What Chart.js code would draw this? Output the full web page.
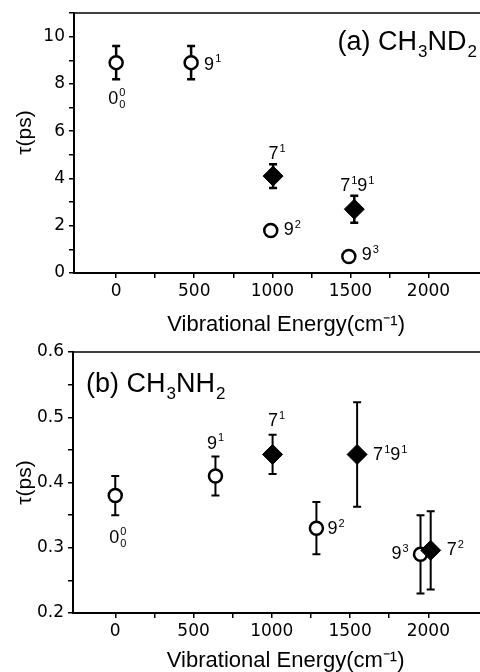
<!DOCTYPE html>
<html>
<head>
<meta charset="utf-8">
<script src="https://cdn.jsdelivr.net/npm/chart.js@4.4.0/dist/chart.umd.min.js"></script>
<style>
  html, body { margin: 0; padding: 0; background: #fff; }
  .panel { width: 480px; height: 336px; }
</style>
</head>
<body>
<div class="panel"><canvas id="chartA" width="480" height="336"></canvas></div>
<div class="panel"><canvas id="chartB" width="480" height="336"></canvas></div>
<script>
// ---- data: (a) CH3ND2 ----
const openEnergyA = [0, 480, 990, 1490];
const openTauA = [8.9, 8.9, 1.8, 0.7];
const openErrA = [0.7, 0.7, 0, 0];
const openLabelsA = ['0^0_0', '9^1', '9^2', '9^3'];
const filledEnergyA = [1005, 1525];
const filledTauA = [4.1, 2.7];
const filledErrA = [0.5, 0.57];
const filledLabelsA = ['7^1', '7^19^1'];

// ---- data: (b) CH3NH2 ----
const openEnergyB = [0, 640, 1285, 1950];
const openTauB = [0.38, 0.41, 0.33, 0.29];
const openErrB = [0.03, 0.03, 0.04, 0.06];
const openLabelsB = ['0^0_0', '9^1', '9^2', '9^3'];
const filledEnergyB = [1005, 1545, 2015];
const filledTauB = [0.443, 0.443, 0.296];
const filledErrB = [0.03, 0.08, 0.06];
const filledLabelsB = ['7^1', '7^19^1', '7^2'];

// ---- tick labels ----
const xTickLabels = [0, 500, 1000, 1500, 2000];
const yTickLabelsA = [0, 2, 4, 6, 8, 10];
const yTickLabelsB = [0.2, 0.3, 0.4, 0.5, 0.6];

const TEXT_FONT = '"Liberation Sans", Arial, sans-serif';
const TICK_FONT = '"DejaVu Sans", sans-serif';

Chart.defaults.color = '#000';

// label offsets relative to the marker (layout only)
const openOffsetsA = [[-8, 41, 'left'], [13, 7, 'left'], [13, 5, 'left'], [13, 4, 'left']];
const filledOffsetsA = [[4, -17, 'center'], [3, -18, 'center']];
const openOffsetsB = [[-6, 47, 'left'], [0, -27, 'center'], [11, 6, 'left'], [-12, 5, 'right']];
const filledOffsetsB = [[4, -28, 'center'], [16, 6, 'left'], [16, 5, 'left']];

// '^x' superscript, '_x' subscript, '^x_y' stacked
function parseRich(s) {
    const parts = [];
    for (let i = 0; i < s.length; i++) {
        const c = s[i];
        if (c === '^' && s[i + 2] === '_') { parts.push({ sup: s[i + 1], sub: s[i + 3] }); i += 3; }
        else if (c === '^') { parts.push({ sup: s[i + 1] }); i += 1; }
        else if (c === '_') { parts.push({ sub: s[i + 1] }); i += 1; }
        else parts.push({ t: c });
    }
    return parts;
}

function drawRich(ctx, str, x, y, size, align) {
    const parts = parseRich(str);
    const big = size + 'px ' + TEXT_FONT;
    const small = Math.round(size * 0.62) + 'px ' + TEXT_FONT;
    const widths = parts.map(p => {
        if (p.t !== undefined) { ctx.font = big; return ctx.measureText(p.t).width; }
        ctx.font = small;
        return Math.max(p.sup ? ctx.measureText(p.sup).width : 0, p.sub ? ctx.measureText(p.sub).width : 0) + 1;
    });
    const total = widths.reduce((a, b) => a + b, 0);
    let cx = align === 'center' ? x - total / 2 : align === 'right' ? x - total : x;
    ctx.save();
    ctx.fillStyle = '#000';
    ctx.textBaseline = 'alphabetic';
    ctx.textAlign = 'left';
    parts.forEach((p, i) => {
        if (p.t !== undefined) {
            ctx.font = big;
            ctx.fillText(p.t, cx, y);
        } else {
            ctx.font = small;
            if (p.sup) ctx.fillText(p.sup, cx + 1, y - size * 0.42);
            if (p.sub) ctx.fillText(p.sub, cx + 1, y + size * 0.25);
        }
        cx += widths[i];
    });
    ctx.restore();
}

const errorBars = {
    id: 'errorBars',
    beforeDatasetsDraw(chart) {
        const ctx = chart.ctx;
        const yScale = chart.scales.y;
        chart.data.datasets.forEach((ds, i) => {
            const meta = chart.getDatasetMeta(i);
            ctx.save();
            ctx.strokeStyle = '#000';
            ctx.lineWidth = ds.errWidth;
            meta.data.forEach((pt, j) => {
                const e = ds.errors[j];
                if (!e) return;
                const v = ds.data[j].y;
                const top = yScale.getPixelForValue(v + e);
                const bot = yScale.getPixelForValue(v - e);
                ctx.beginPath();
                ctx.moveTo(pt.x, top); ctx.lineTo(pt.x, bot);
                ctx.moveTo(pt.x - 4, top); ctx.lineTo(pt.x + 4, top);
                ctx.moveTo(pt.x - 4, bot); ctx.lineTo(pt.x + 4, bot);
                ctx.stroke();
            });
            ctx.restore();
        });
    },
    afterDatasetsDraw(chart) {
        const ctx = chart.ctx;
        chart.data.datasets.forEach((ds, i) => {
            const meta = chart.getDatasetMeta(i);
            meta.data.forEach((pt, j) => {
                const off = ds.labelOffsets[j];
                drawRich(ctx, ds.pointLabels[j], pt.x + off[0], pt.y + off[1], 18, off[2]);
            });
        });
    },
    afterDraw(chart, args, opts) {
        const ctx = chart.ctx;
        const area = chart.chartArea;
        ctx.save();
        ctx.strokeStyle = '#000';
        ctx.lineWidth = 1.5;
        ctx.beginPath();
        ctx.moveTo(area.left, area.top);
        ctx.lineTo(area.right, area.top);
        ctx.stroke();
        ctx.restore();
        const tx = opts.align === 'right' ? area.right + opts.dx : area.left + opts.dx;
        drawRich(ctx, opts.text, tx, area.top + opts.dy, 27, opts.align);
    }
};

function keepSteps(step) {
    return function (scale) {
        scale.ticks = scale.ticks.filter(t => Math.abs(t.value / step - Math.round(t.value / step)) < 1e-6);
    };
}

function makeChart(id, cfg) {
    const data = {
        datasets: [
            {
                data: cfg.filledX.map((x, i) => ({ x: x, y: cfg.filledY[i] })),
                errors: cfg.filledErr,
                pointLabels: cfg.filledLabels,
                labelOffsets: cfg.filledOffsets,
                errWidth: cfg.errWidth,
                pointStyle: 'rectRot',
                pointRadius: 10,
                pointHoverRadius: 10,
                backgroundColor: '#000',
                borderColor: '#000',
                borderWidth: 1
            },
            {
                data: cfg.openX.map((x, i) => ({ x: x, y: cfg.openY[i] })),
                errors: cfg.openErr,
                pointLabels: cfg.openLabels,
                labelOffsets: cfg.openOffsets,
                errWidth: cfg.errWidth,
                pointStyle: 'circle',
                pointRadius: 6.5,
                pointHoverRadius: 6.5,
                backgroundColor: '#fff',
                borderColor: '#000',
                borderWidth: 2.5
            }
        ]
    };

    new Chart(document.getElementById(id).getContext('2d'), {
        type: 'scatter',
        data: data,
        plugins: [errorBars],
        options: {
            responsive: false,
            animation: false,
            layout: { autoPadding: false, padding: { top: cfg.padTop, left: 0, right: 0, bottom: 0 } },
            scales: {
                x: {
                    type: 'linear',
                    min: -270,
                    max: 2330,
                    afterFit: s => { s.height = cfg.xHeight; s.paddingLeft = 0; s.paddingRight = 0; },
                    afterBuildTicks: keepSteps(250),
                    ticks: {
                        stepSize: 250,
                        autoSkip: false,
                        maxRotation: 0,
                        padding: 3,
                        font: { family: TICK_FONT, size: 17 },
                        callback: v => xTickLabels.includes(v) ? String(v) : ''
                    },
                    grid: { drawOnChartArea: false, tickLength: 5, color: '#000', lineWidth: 1.5 },
                    border: { display: true, color: '#000', width: 2 },
                    title: {
                        display: true,
                        // leading spaces nudge the centred title right, as in the original
                        text: '   Vibrational Energy(cm\u207B\u00B9)',
                        font: { family: TEXT_FONT, size: 22, lineHeight: 1 },
                        padding: { top: 0, bottom: cfg.xTitlePad }
                    }
                },
                y: {
                    type: 'linear',
                    min: cfg.yMin,
                    max: cfg.yMax,
                    afterFit: s => { s.width = cfg.yWidth; s.paddingTop = 0; s.paddingBottom = 0; },
                    afterBuildTicks: keepSteps(cfg.yStep),
                    ticks: {
                        stepSize: cfg.yStep,
                        autoSkip: false,
                        padding: 4,
                        font: { family: TICK_FONT, size: 17 },
                        callback: v => {
                            const hit = cfg.yLabels.find(l => Math.abs(l - v) < 1e-6);
                            return hit === undefined ? '' : (cfg.yDigits ? hit.toFixed(cfg.yDigits) : String(hit));
                        }
                    },
                    grid: { drawOnChartArea: false, tickLength: 5, color: '#000', lineWidth: 1.5 },
                    border: { display: true, color: '#000', width: 2 },
                    title: {
                        display: true,
                        text: cfg.yTitle,
                        font: { family: TEXT_FONT, size: 21, lineHeight: 1.2 },
                        padding: { top: 13, bottom: 0 }
                    }
                }
            },
            plugins: {
                legend: { display: false },
                tooltip: { enabled: false },
                errorBars: cfg.title
            }
        }
    });
}

makeChart('chartA', {
    openX: openEnergyA, openY: openTauA, openErr: openErrA, openLabels: openLabelsA, openOffsets: openOffsetsA,
    filledX: filledEnergyA, filledY: filledTauA, filledErr: filledErrA, filledLabels: filledLabelsA, filledOffsets: filledOffsetsA,
    yMin: 0, yMax: 11, yStep: 1, yLabels: yTickLabelsA, yDigits: 0,
    padTop: 13, xHeight: 63, yWidth: 74, xTitlePad: 0, errWidth: 2.5,
    yTitle: '\u2002\u2002\u03C4(ps)',
    title: { text: '(a) CH_3ND_2', align: 'right', dx: -3, dy: 37 }
});

makeChart('chartB', {
    openX: openEnergyB, openY: openTauB, openErr: openErrB, openLabels: openLabelsB, openOffsets: openOffsetsB,
    filledX: filledEnergyB, filledY: filledTauB, filledErr: filledErrB, filledLabels: filledLabelsB, filledOffsets: filledOffsetsB,
    yMin: 0.2, yMax: 0.6, yStep: 0.05, yLabels: yTickLabelsB, yDigits: 1,
    padTop: 16, xHeight: 59, yWidth: 73, xTitlePad: 0, errWidth: 2,
    yTitle: '\u03C4(ps)',
    title: { text: '(b) CH_3NH_2', align: 'left', dx: 13, dy: 40 }
});
</script>
</body>
</html>
